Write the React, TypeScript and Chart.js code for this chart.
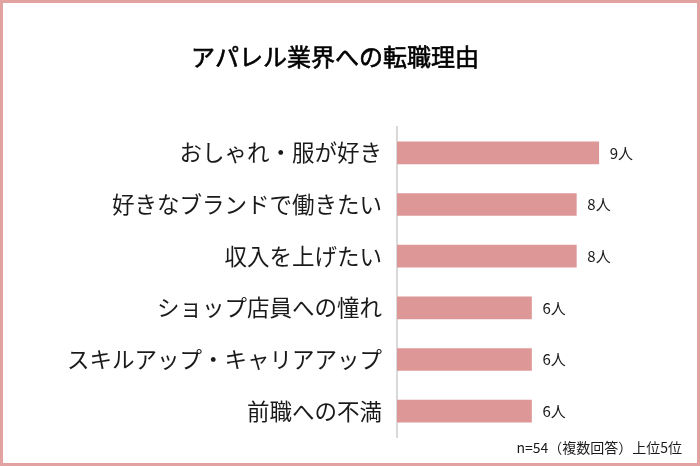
import React, { useEffect, useRef } from "react";
import { Chart, registerables } from "chart.js";

Chart.register(...registerables);

const chartTitle = "アパレル業界への転職理由";
const categories = [
  "おしゃれ・服が好き",
  "好きなブランドで働きたい",
  "収入を上げたい",
  "ショップ店員への憧れ",
  "スキルアップ・キャリアアップ",
  "前職への不満",
];
const values = [9, 8, 8, 6, 6, 6];
const unit = "人";
const footnote = "n=54（複数回答）上位5位";

const FONT = '"Noto Sans CJK JP", "Noto Sans", sans-serif';
const BAR_COLOR = "#dd9797";
const BORDER_COLOR = "#e3a2a2";
const TEXT_COLOR = "#1a1a1a";

export default function App() {
  const ref = useRef<HTMLCanvasElement | null>(null);

  useEffect(() => {
    document.body.style.margin = "0";
    const canvas = ref.current;
    if (!canvas) return;

    const decor = {
      id: "decor",
      beforeDraw(chart: any) {
        const { ctx, width, height } = chart;
        ctx.save();
        ctx.fillStyle = "#ffffff";
        ctx.fillRect(0, 0, width, height);
        ctx.restore();
      },
      afterDraw(chart: any) {
        const { ctx, width, height } = chart;
        ctx.save();
        // border
        ctx.strokeStyle = BORDER_COLOR;
        ctx.lineWidth = 3;
        ctx.strokeRect(1.5, 1.5, width - 3, height - 3);
        // title
        ctx.fillStyle = "#000000";
        ctx.strokeStyle = "#000000";
        ctx.lineWidth = 0.6;
        ctx.font = `24px ${FONT}`;
        ctx.textAlign = "center";
        ctx.textBaseline = "middle";
        ctx.fillText(chartTitle, 335, 57);
        ctx.strokeText(chartTitle, 335, 57);
        // value labels
        const meta = chart.getDatasetMeta(0);
        ctx.fillStyle = TEXT_COLOR;
        ctx.font = `15px ${FONT}`;
        ctx.textAlign = "left";
        ctx.textBaseline = "middle";
        meta.data.forEach((bar: any, i: number) => {
          ctx.fillText(`${values[i]}${unit}`, bar.x + 11, bar.y);
        });
        // footnote
        ctx.font = `14px ${FONT}`;
        ctx.textAlign = "right";
        ctx.fillText(footnote, 682, 448);
        ctx.restore();
      },
    };

    const chart = new Chart(canvas, {
      type: "bar",
      data: {
        labels: categories,
        datasets: [
          {
            data: values,
            backgroundColor: BAR_COLOR,
            borderWidth: 0,
            barThickness: 22,
          },
        ],
      },
      options: {
        indexAxis: "y",
        responsive: false,
        animation: false,
        layout: { padding: { left: 0, right: 34, top: 127, bottom: 29 } },
        plugins: {
          legend: { display: false },
          title: { display: false },
          tooltip: { enabled: false },
        },
        scales: {
          x: {
            display: false,
            min: 0,
            max: 12,
          },
          y: {
            afterFit(scale: any) {
              scale.width = 397;
            },
            grid: { display: false, drawTicks: false },
            border: { display: true, color: "#d9d9d9", width: 2 },
            ticks: {
              color: TEXT_COLOR,
              padding: 15,
              font: { family: FONT, size: 22.5 },
            },
          },
        },
      },
      plugins: [decor],
    });

    return () => chart.destroy();
  }, []);

  return <canvas ref={ref} width={700} height={466} style={{ display: "block" }} />;
}
